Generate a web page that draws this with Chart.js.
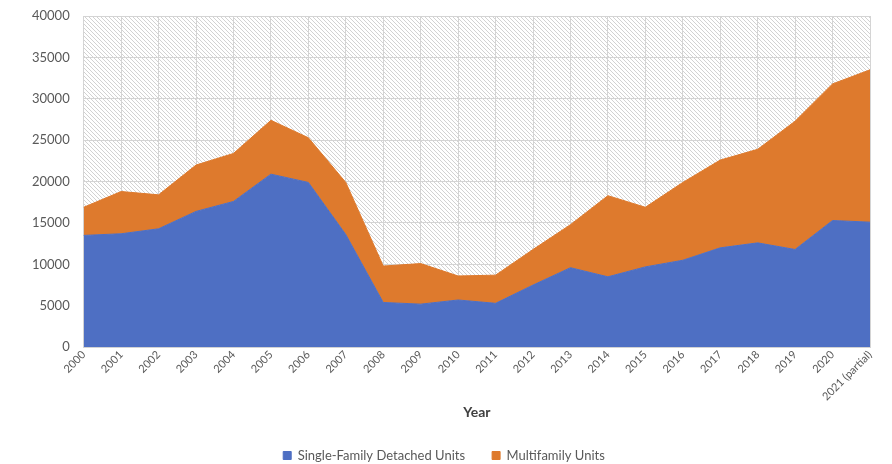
<!DOCTYPE html>
<html lang="en">
<head>
    <meta charset="UTF-8">
    <title>Housing Units by Year</title>
    <script src="https://cdn.jsdelivr.net/npm/chart.js"></script>
    <style>
        html, body { margin: 0; padding: 0; background: #fff; }
        #wrap { width: 892px; height: 464px; }
    </style>
</head>
<body>
    <div id="wrap"><canvas id="unitsChart"></canvas></div>

    <script>
        const years = ["2000", "2001", "2002", "2003", "2004", "2005", "2006", "2007", "2008", "2009", "2010",
            "2011", "2012", "2013", "2014", "2015", "2016", "2017", "2018", "2019", "2020", "2021 (partial)"];
        const singleFamily = [13500, 13700, 14300, 16400, 17600, 20900, 19900, 13600, 5400, 5200, 5700,
            5300, 7500, 9600, 8500, 9700, 10500, 12000, 12600, 11800, 15300, 15100];
        const multifamily = [3400, 5100, 4100, 5600, 5800, 6500, 5400, 6300, 4400, 4900, 2900,
            3400, 4300, 5200, 9800, 7200, 9400, 10600, 11300, 15500, 16500, 18400];
        const yTicks = [0, 5000, 10000, 15000, 20000, 25000, 30000, 35000, 40000];

        const textColor = "#595959";
        const fontName = "Lato, 'Open Sans', sans-serif";

        // diagonal hatch behind the plot
        function makeHatch() {
            const c = document.createElement("canvas");
            c.width = 4; c.height = 4;
            const g = c.getContext("2d");
            g.fillStyle = "#ffffff";
            g.fillRect(0, 0, 4, 4);
            g.strokeStyle = "#d2d2d2";
            g.lineWidth = 1;
            g.beginPath();
            g.moveTo(-1, -1); g.lineTo(5, 5);
            g.moveTo(-1, 3); g.lineTo(1, 5);
            g.moveTo(3, -1); g.lineTo(5, 1);
            g.stroke();
            return g.createPattern(c, "repeat");
        }

        const hatchBg = {
            id: "hatchBg",
            beforeDraw(chart) {
                const { ctx, chartArea: a } = chart;
                ctx.save();
                ctx.fillStyle = makeHatch();
                ctx.fillRect(a.left, a.top, a.right - a.left, a.bottom - a.top);
                ctx.restore();
            }
        };

        const ctx = document.getElementById("unitsChart").getContext("2d");
        new Chart(ctx, {
            type: "line",
            data: {
                labels: years,
                datasets: [
                    {
                        label: "Single-Family Detached Units",
                        data: singleFamily,
                        backgroundColor: "#4e6fc3",
                        borderColor: "#4e6fc3",
                        borderWidth: 1,
                        fill: "origin",
                        pointRadius: 0,
                        tension: 0
                    },
                    {
                        label: "Multifamily Units",
                        data: multifamily,
                        backgroundColor: "#de7a2d",
                        borderColor: "#de7a2d",
                        borderWidth: 1,
                        fill: "-1",
                        pointRadius: 0,
                        tension: 0
                    }
                ]
            },
            options: {
                responsive: true,
                maintainAspectRatio: false,
                animation: false,
                layout: { padding: { left: 18, right: 22, top: 0, bottom: -8 } },
                plugins: {
                    tooltip: { enabled: false },
                    legend: {
                        position: "bottom",
                        labels: {
                            boxWidth: 8,
                            boxHeight: 8,
                            padding: 27,
                            color: textColor,
                            font: { family: fontName, size: 13 }
                        }
                    }
                },
                scales: {
                    x: {
                        offset: false,
                        grid: { color: "#d4d4d4", drawTicks: false },
                        border: { color: "#d4d4d4" },
                        ticks: {
                            color: textColor,
                            minRotation: 45,
                            maxRotation: 45,
                            padding: 1,
                            autoSkip: false,
                            font: { family: fontName, size: 11 }
                        },
                        title: {
                            display: true,
                            text: "Year",
                            color: "#404040",
                            padding: { top: 0, bottom: 1 },
                            font: { family: fontName, size: 14, weight: "bold" }
                        }
                    },
                    y: {
                        stacked: true,
                        min: 0,
                        max: 40000,
                        afterBuildTicks(scale) {
                            scale.ticks = yTicks.map(v => ({ value: v }));
                        },
                        afterFit(scale) {
                            // tick padding would otherwise push the plot top down
                            scale.paddingTop = 16;
                        },
                        grid: { color: "#d4d4d4", drawTicks: false },
                        border: { display: false },
                        ticks: {
                            color: textColor,
                            padding: 14,
                            font: { family: fontName, size: 13 },
                            callback: v => String(v)
                        }
                    }
                }
            },
            plugins: [hatchBg]
        });
    </script>
</body>
</html>
